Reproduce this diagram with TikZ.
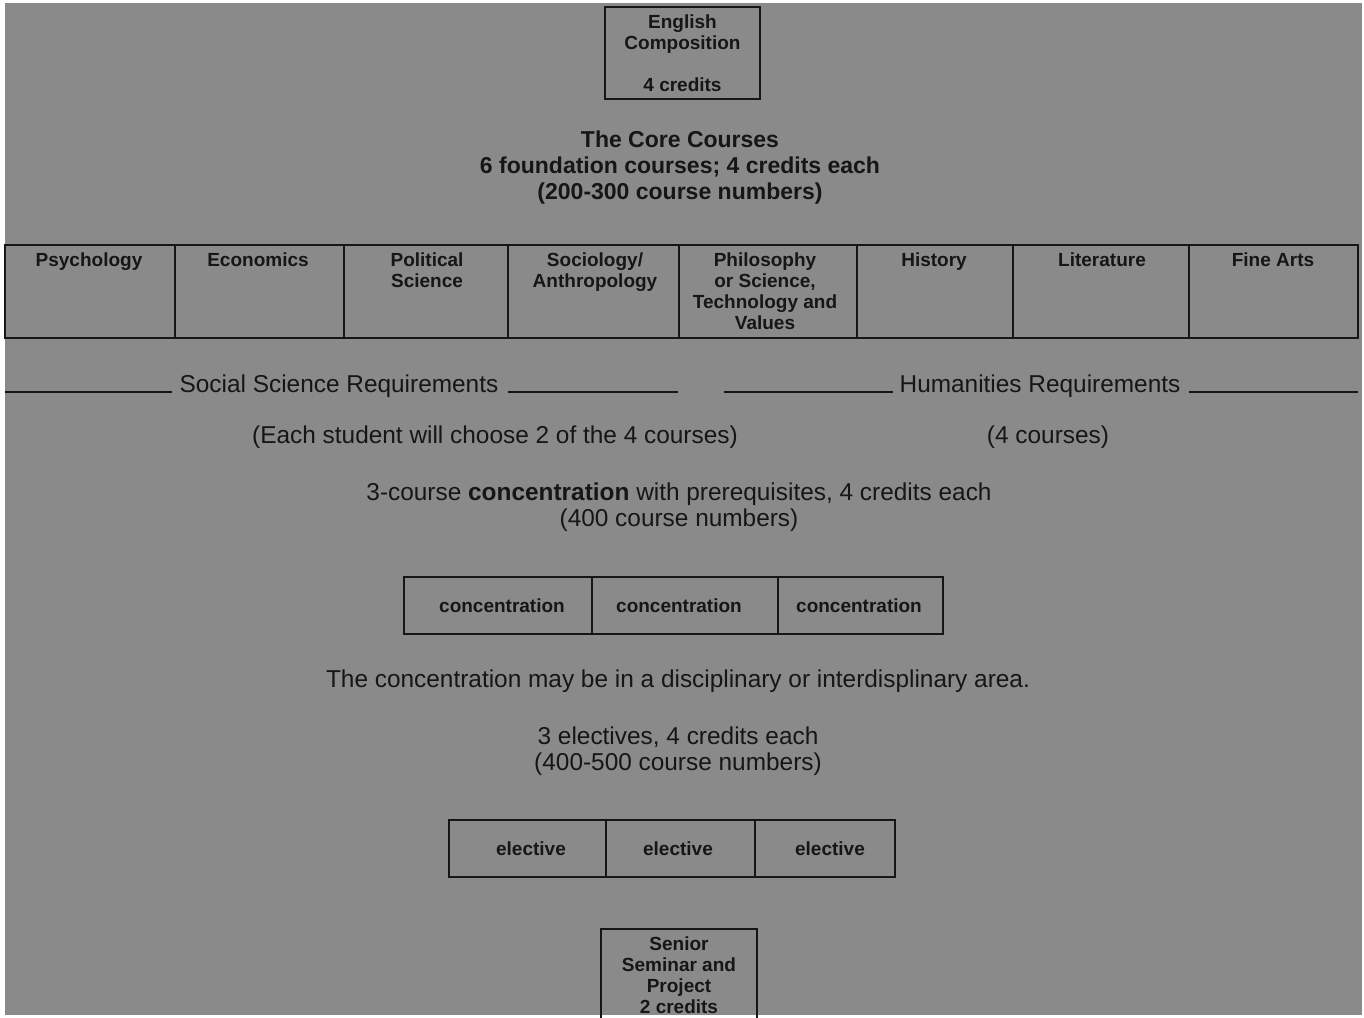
\documentclass[tikz,border=0pt]{standalone}
\usepackage{fontspec}
\setmainfont{Liberation Sans}
\definecolor{paper}{RGB}{138,138,138}
\definecolor{ink}{RGB}{22,22,22}

\begin{document}
\begin{tikzpicture}[x=0.5pt,y=-0.5pt,
  every node/.style={text=ink,inner sep=0pt},
  box/.style={draw=ink,line width=1.1pt},
  rule/.style={draw=ink,line width=1pt},
  bold/.style={font=\fontsize{9.5}{10.5}\selectfont\bfseries,align=center},
  plain/.style={font=\fontsize{12.2}{13}\selectfont,align=center},
  title/.style={font=\fontsize{11.5}{13}\selectfont\bfseries,align=center}]
\useasboundingbox (0,0) rectangle (1364,1017);
\fill[white] (0,0) rectangle (1364,1017);
\fill[paper] (5,3) rectangle (1362,1015);
\clip (0,0) rectangle (1364,1017);

% english composition
\draw[box] (605,7) rectangle (760,99);
\node[bold,anchor=north] (eng) at (682.5,14) {English\\Composition\\[10.5pt]4 credits};

% the core courses
\node[title] (core) at (680,168) {The Core Courses\\6 foundation courses; 4 credits each\\(200-300 course numbers)};

\draw[box] (5,245) rectangle (1358,338);
\foreach \x in {175,344,508,679,857,1013,1189}
  \draw[box] (\x,245) -- (\x,338);
\foreach \x/\n/\t in {89/psy/Psychology, 258/eco/Economics, 427/pol/{Political\\Science},
    595/soc/{Sociology/\\Anthropology}, 765/phi/{Philosophy\\or Science,\\Technology and\\Values},
    934/his/History, 1102/lit/Literature, 1273/art/Fine Arts}
  \node[bold,anchor=north] (\n) at (\x,252) {\t};

% requirements
\node[plain,anchor=base] (socreq) at (339,392) {Social Science Requirements};
\draw[rule] (5,392) -- ([xshift=-3.5pt]socreq.base west);
\draw[rule] ([xshift=4.5pt]socreq.base east) -- (678,392);
\node[plain,anchor=base] (humreq) at (1040,392) {Humanities Requirements};
\draw[rule] (724,392) -- ([xshift=-3pt]humreq.base west);
\draw[rule] ([xshift=4pt]humreq.base east) -- (1358,392);

\node[plain] (choose) at (495,437) {(Each student will choose 2 of the 4 courses)};
\node[plain] (four) at (1048,437) {(4 courses)};

% concentration
\node[plain] (conc) at (679,507) {3-course \textbf{concentration} with prerequisites, 4 credits each\\(400 course numbers)};
\foreach \l/\r/\x/\n in {404/592/502/con1, 592/778/679/con2, 778/943/859/con3} {
  \draw[box] (\l,577) rectangle (\r,634);
  \node[bold] (\n) at (\x,606) {concentration};
}
\node[plain] (area) at (678,681) {The concentration may be in a disciplinary or interdisplinary area.};

% electives
\node[plain] (elec) at (678,751) {3 electives, 4 credits each\\(400-500 course numbers)};
\foreach \l/\r/\x/\n in {449/606/531/ele1, 606/755/678/ele2, 755/895/830/ele3} {
  \draw[box] (\l,820) rectangle (\r,877);
  \node[bold] (\n) at (\x,849) {elective};
}

% senior seminar
\draw[box] (601,929) rectangle (757,1040);
\node[bold,anchor=north] (sen) at (679,936) {Senior\\Seminar and\\Project\\2 credits};
\end{tikzpicture}
\end{document}
